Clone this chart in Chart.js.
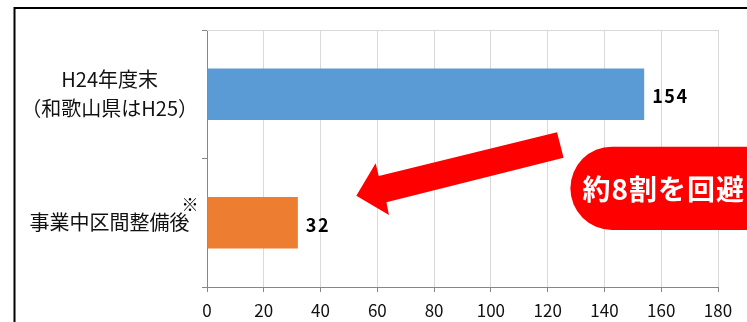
<!DOCTYPE html>
<html lang="ja">
<head>
<meta charset="utf-8">
<script src="https://cdn.jsdelivr.net/npm/chart.js@4/dist/chart.umd.min.js"></script>
<style>
  html, body { margin: 0; background: #fff; }
  canvas { display: block; }
</style>
</head>
<body>
<canvas id="chart" width="747" height="322"></canvas>
<script>
// categories and values
const categories = [['H24年度末', '（和歌山県はH25）'], '事業中区間整備後'];
const values = [154, 32];
const barColors = ['#5b9bd5', '#ed7d31'];
const xMin = 0;
const xMax = 180;
const xStep = 20;
const calloutText = '約8割を回避';
const noteMark = '※';

const FONT = '"Noto Sans CJK JP", "Noto Sans", sans-serif';

// frame, plot border, value labels, arrow and callout
const decorations = {
  id: 'decorations',
  beforeDraw(chart) {
    const ctx = chart.ctx;
    ctx.save();
    ctx.strokeStyle = '#000';
    ctx.lineWidth = 2;
    ctx.beginPath();
    ctx.moveTo(14.5, chart.height + 4);
    ctx.lineTo(14.5, 8);
    ctx.lineTo(chart.width + 4, 8);
    ctx.stroke();
    ctx.restore();
  },
  beforeDatasetsDraw(chart) {
    const { ctx, chartArea } = chart;
    ctx.save();
    ctx.strokeStyle = '#d9d9d9';
    ctx.lineWidth = 1;
    ctx.beginPath();
    ctx.moveTo(chartArea.left, chartArea.top + 0.5);
    ctx.lineTo(chartArea.right, chartArea.top + 0.5);
    ctx.stroke();
    ctx.restore();
  },
  afterDatasetsDraw(chart) {
    const ctx = chart.ctx;
    ctx.save();
    ctx.fillStyle = '#000';
    ctx.font = 'bold 18px ' + FONT;
    ctx.textAlign = 'left';
    ctx.textBaseline = 'middle';
    ctx.letterSpacing = '1.5px';
    chart.getDatasetMeta(0).data.forEach((bar, i) => {
      ctx.fillText(String(values[i]), bar.x + 8, bar.y + 2);
    });
    ctx.restore();
  },
  afterDraw(chart) {
    const ctx = chart.ctx;
    const xs = chart.scales.x;
    const ys = chart.scales.y;
    const px = v => xs.getPixelForValue(v);
    const py = v => ys.getPixelForValue(v);

    // note mark after the second category label
    ctx.save();
    ctx.fillStyle = '#000';
    ctx.font = '17px ' + FONT;
    ctx.textAlign = 'center';
    ctx.textBaseline = 'middle';
    ctx.fillText(noteMark, ys.right - 17, py(1) - 18);
    ctx.restore();

    // arrow pointing at the shorter bar
    const arrow = [
      [123.3, 0.296], [125.6, 0.494], [63.2, 0.841], [64.1, 0.94],
      [52.6, 0.789], [59.4, 0.537], [60.5, 0.636]
    ];
    ctx.save();
    ctx.fillStyle = '#ff0000';
    ctx.beginPath();
    arrow.forEach(([x, y], i) => {
      if (i === 0) ctx.moveTo(px(x), py(y));
      else ctx.lineTo(px(x), py(y));
    });
    ctx.closePath();
    ctx.fill();

    // callout
    const left = px(128);
    const top = py(0.408);
    const bottom = py(1.056);
    const h = bottom - top;
    ctx.beginPath();
    ctx.roundRect(left, top, chart.width + 60 - left, h, h / 2);
    ctx.fill();
    ctx.fillStyle = '#fff';
    ctx.font = 'bold 28px ' + FONT;
    ctx.textAlign = 'left';
    ctx.textBaseline = 'middle';
    ctx.letterSpacing = '1px';
    ctx.fillText(calloutText, px(132.3), top + h / 2 + 1);
    ctx.restore();
  }
};

new Chart(document.getElementById('chart'), {
  type: 'bar',
  data: {
    labels: categories,
    datasets: [{
      data: values,
      backgroundColor: barColors,
      barPercentage: 0.4,
      categoryPercentage: 1.0
    }]
  },
  options: {
    indexAxis: 'y',
    responsive: false,
    maintainAspectRatio: false,
    animation: false,
    layout: { padding: { left: 0, top: 30, right: 29, bottom: 0 } },
    plugins: {
      legend: { display: false },
      title: { display: false },
      tooltip: { enabled: false }
    },
    scales: {
      x: {
        min: xMin,
        max: xMax,
        afterFit(scale) { scale.height = 35; },
        ticks: {
          stepSize: xStep,
          color: '#111',
          padding: 8,
          font: { family: FONT, size: 17 }
        },
        grid: { color: '#d9d9d9', tickColor: '#868686', tickLength: 5 },
        border: { color: '#868686' }
      },
      y: {
        afterFit(scale) { scale.width = 207; },
        ticks: {
          color: '#111',
          crossAlign: 'center',
          padding: 4,
          font: { family: FONT, size: 20, lineHeight: 1.45 }
        },
        grid: { drawOnChartArea: false, offset: true, tickColor: '#868686', tickLength: 5 },
        border: { color: '#868686' }
      }
    }
  },
  plugins: [decorations]
});
</script>
</body>
</html>
